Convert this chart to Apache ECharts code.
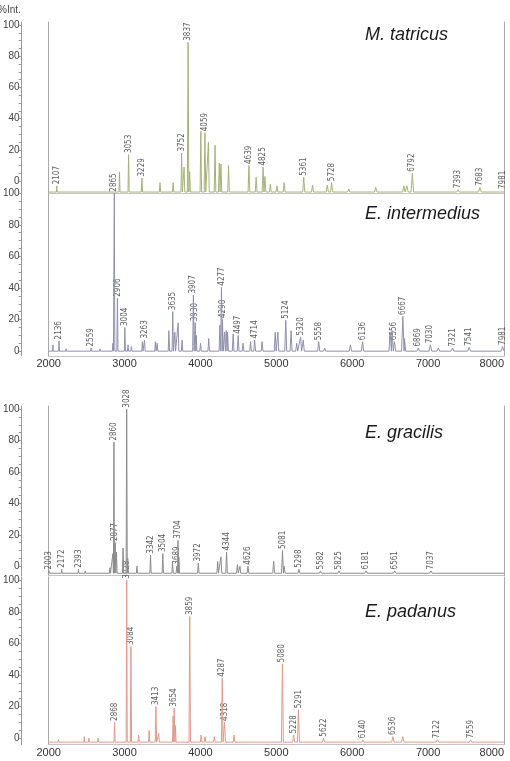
<!DOCTYPE html>
<html>
<head>
<meta charset="utf-8">
<script src="https://cdn.jsdelivr.net/npm/echarts@6/dist/echarts.min.js"></script>
<style>
  html, body { margin: 0; padding: 0; background: #fff; }
  #chart { width: 510px; height: 761px; }
</style>
</head>
<body>
<div id="chart"></div>
<script>
// axis ticks
const xTicks = [2000, 3000, 4000, 5000, 6000, 7000, 8000];
const yTickLabels = [0, 20, 40, 60, 80, 100];
const yTicks = [0, 5, 10, 15, 20, 25, 30, 35, 40, 45, 50, 55, 60, 65, 70, 75, 80, 85, 90, 95, 100];

const species = ['M. tatricus', 'E. intermedius', 'E. gracilis', 'E. padanus'];
const colors = ['#a6b27c', '#9090ac', '#8c8c8c', '#e29a8a'];
const baselines = [-7, 0, -4.5, -2.5];

// [m/z, %Int.] of labelled peaks
const tatricusLabeled = [[2107, -3], [3053, 17], [3229, 2], [3752, 18], [3837, 89], [4059, 31],
  [4639, 10], [4825, 9], [5361, 2.5], [5728, -1], [6792, 5], [7393, -5.5], [7683, -4], [7981, -6]];
const intermediusLabeled = [[2136, 6.5], [2559, 2], [2865, 100], [2906, 33.5], [3004, 15], [3263, 7],
  [3635, 25], [3907, 35.5], [3930, 18], [4277, 40.5], [4290, 20], [4497, 10], [4714, 7], [5124, 19.5],
  [5320, 9], [5558, 6], [6136, 6], [6556, 6], [6667, 22], [6869, 2], [7030, 4], [7321, 2], [7541, 2.5], [7981, 3]];
const gracilisLabeled = [[2003, -3], [2172, -2], [2393, -2], [2860, 79], [2877, 15], [3028, 100],
  [3342, 7], [3504, 8], [3689, 0], [3704, 16.5], [3972, 2], [4344, 9], [4626, 0], [5081, 10],
  [5298, -2], [5582, -3], [5825, -3], [6181, -3], [6561, -3], [7037, -3]];
const padanusLabeled = [[2868, 10], [3028, 100], [3084, 58], [3413, 20], [3654, 19], [3859, 77],
  [4287, 38], [4318, 10], [5080, 47], [5228, 2], [5291, 18], [5622, 0], [6140, -1], [6536, 1],
  [7122, -1], [7559, -1]];

// unlabelled peaks
const tatricusOther = [[2933, 6], [3467, -1], [3640, -1], [3784, 9], [3858, 6], [4005, 32], [4105, 25],
  [4192, 23], [4248, 11.5], [4270, 11], [4370, 10], [4734, 2.5], [4850, 3], [4921, -2], [5008, -3],
  [5103, -1], [5477, -2.5], [5672, -2.5], [5954, -5], [6310, -4], [6680, -3], [6720, -3]];
const intermediusOther = [[2056, 4], [2230, 1.5], [2677, 1.5], [2846, 5], [3046, 4], [3090, 3],
  [3235, 6], [3406, 6], [3430, 5], [3584, 13], [3663, 12], [3706, 18], [3758, 7], [3944, 10],
  [4001, 5], [4109, 8], [4256, 16.5], [4318, 12], [4340, 13], [4357, 12], [4431, 11], [4561, 5],
  [4660, 6], [4812, 6], [4985, 12], [5020, 12], [5194, 13], [5268, 5], [5355, 7], [5637, 2],
  [5976, 4], [6500, 12], [6525, 13], [6688, 8], [7134, 2]];
const gracilisOther = [[2482, -3], [2807, -1], [2846, 8], [2894, 9], [2980, 11.5], [3042, 5],
  [3163, 0], [3632, 2], [3715, 6], [4227, 3], [4270, 6], [4487, 1], [4520, 0], [4965, 3], [5103, 0]];
const padanusOther = [[2130, -1], [2469, 1], [2530, 0], [2650, 0], [3185, 2], [3324, 5], [3450, 3],
  [3640, 14], [3670, 8], [4009, 2], [4060, 1], [4183, 1], [4443, 2], [6666, 1]];

const labeled = [tatricusLabeled, intermediusLabeled, gracilisLabeled, padanusLabeled];
const others = [tatricusOther, intermediusOther, gracilisOther, padanusOther];

// panel layout (px) and value range
const panels = [
  { top: 22, height: 171.6, min: -8, max: 102, title: 26 },
  { top: 190, height: 165.9, min: -3, max: 102, title: 205 },
  { top: 406, height: 169.6, min: -6, max: 102, title: 424 },
  { top: 577, height: 167.5, min: -4, max: 102, title: 603 }
];

function spectrum(lab, oth, base) {
  const peaks = lab.concat(oth).sort(function (a, b) { return a[0] - b[0]; });
  const pts = [[2000, base]];
  peaks.forEach(function (p) {
    const w = p[0] * 0.0025;
    pts.push([p[0] - w, base], [p[0], p[1]], [p[0] + w, base]);
  });
  pts.push([8000, base]);
  return pts;
}

const grid = [], xAxis = [], yAxis = [], series = [];
const title = [{
  text: '%Int.', left: -2, top: 5, padding: 0,
  textStyle: { fontSize: 10, color: '#444', fontWeight: 'normal', fontFamily: 'Liberation Sans, Arial, sans-serif' }
}];

panels.forEach(function (p, i) {
  grid.push({ left: 44, right: 6, top: p.top, height: p.height });
  xAxis.push({
    type: 'value', gridIndex: i, min: 2000, max: 8000, interval: 1000,
    axisLine: { show: true, onZero: false, lineStyle: { color: '#c4c4c4', width: 1 } },
    axisTick: { show: false },
    splitLine: { show: false },
    axisLabel: {
      show: i === 1 || i === 3, fontSize: 11, color: '#333', margin: 3,
      customValues: xTicks,
      formatter: function (v) { return String(v); },
      alignMaxLabel: 'right', fontFamily: 'Liberation Sans, Arial, sans-serif'
    }
  });
  // %Int. scale
  yAxis.push({
    type: 'value', gridIndex: i, position: 'left', offset: 27, min: p.min, max: p.max,
    axisLine: { show: true, onZero: false, lineStyle: { color: '#999', width: 1 } },
    axisTick: { show: true, length: 3, customValues: yTicks, lineStyle: { color: '#999' } },
    axisLabel: { customValues: yTickLabels, fontSize: 10, color: '#444', margin: 2,
      fontFamily: 'Liberation Sans, Arial, sans-serif' },
    splitLine: { show: false }
  });
  // frame lines at both ends of the m/z range
  yAxis.push({
    type: 'value', gridIndex: i, position: 'left', offset: 0, min: p.min, max: p.max,
    axisLine: { show: true, onZero: false, lineStyle: { color: '#a8a8a8', width: 1 } },
    axisTick: { show: false }, axisLabel: { show: false }, splitLine: { show: false }
  });
  yAxis.push({
    type: 'value', gridIndex: i, position: 'right', offset: 0, min: p.min, max: p.max,
    axisLine: { show: true, onZero: false, lineStyle: { color: '#a8a8a8', width: 1 } },
    axisTick: { show: false }, axisLabel: { show: false }, splitLine: { show: false }
  });

  series.push({
    type: 'line', xAxisIndex: i, yAxisIndex: i * 3,
    data: spectrum(labeled[i], others[i], baselines[i]),
    showSymbol: false, symbol: 'none', silent: true,
    lineStyle: { color: colors[i], width: 1 }
  });
  series.push({
    type: 'scatter', xAxisIndex: i, yAxisIndex: i * 3,
    data: labeled[i].map(function (d) { return { value: d, name: String(d[0]) }; }),
    symbolSize: 1, itemStyle: { color: 'rgba(0,0,0,0)' }, silent: true,
    label: {
      show: true, formatter: '{b}', position: 'top', distance: 1, rotate: 90,
      align: 'left', verticalAlign: 'middle', fontSize: 8, color: '#333',
      fontFamily: 'Liberation Sans Narrow, DejaVu Sans Condensed, Liberation Sans, sans-serif'
    }
  });

  title.push({
    text: species[i], left: 365, top: p.title, padding: 0,
    textStyle: { fontSize: 18, fontStyle: 'italic', fontWeight: 'normal', color: '#1a1a1a',
      fontFamily: 'Liberation Sans, Arial, sans-serif' }
  });
});

const chart = echarts.init(document.getElementById('chart'));
chart.setOption({
  animation: false,
  title: title,
  grid: grid,
  xAxis: xAxis,
  yAxis: yAxis,
  series: series
});
</script>
</body>
</html>
